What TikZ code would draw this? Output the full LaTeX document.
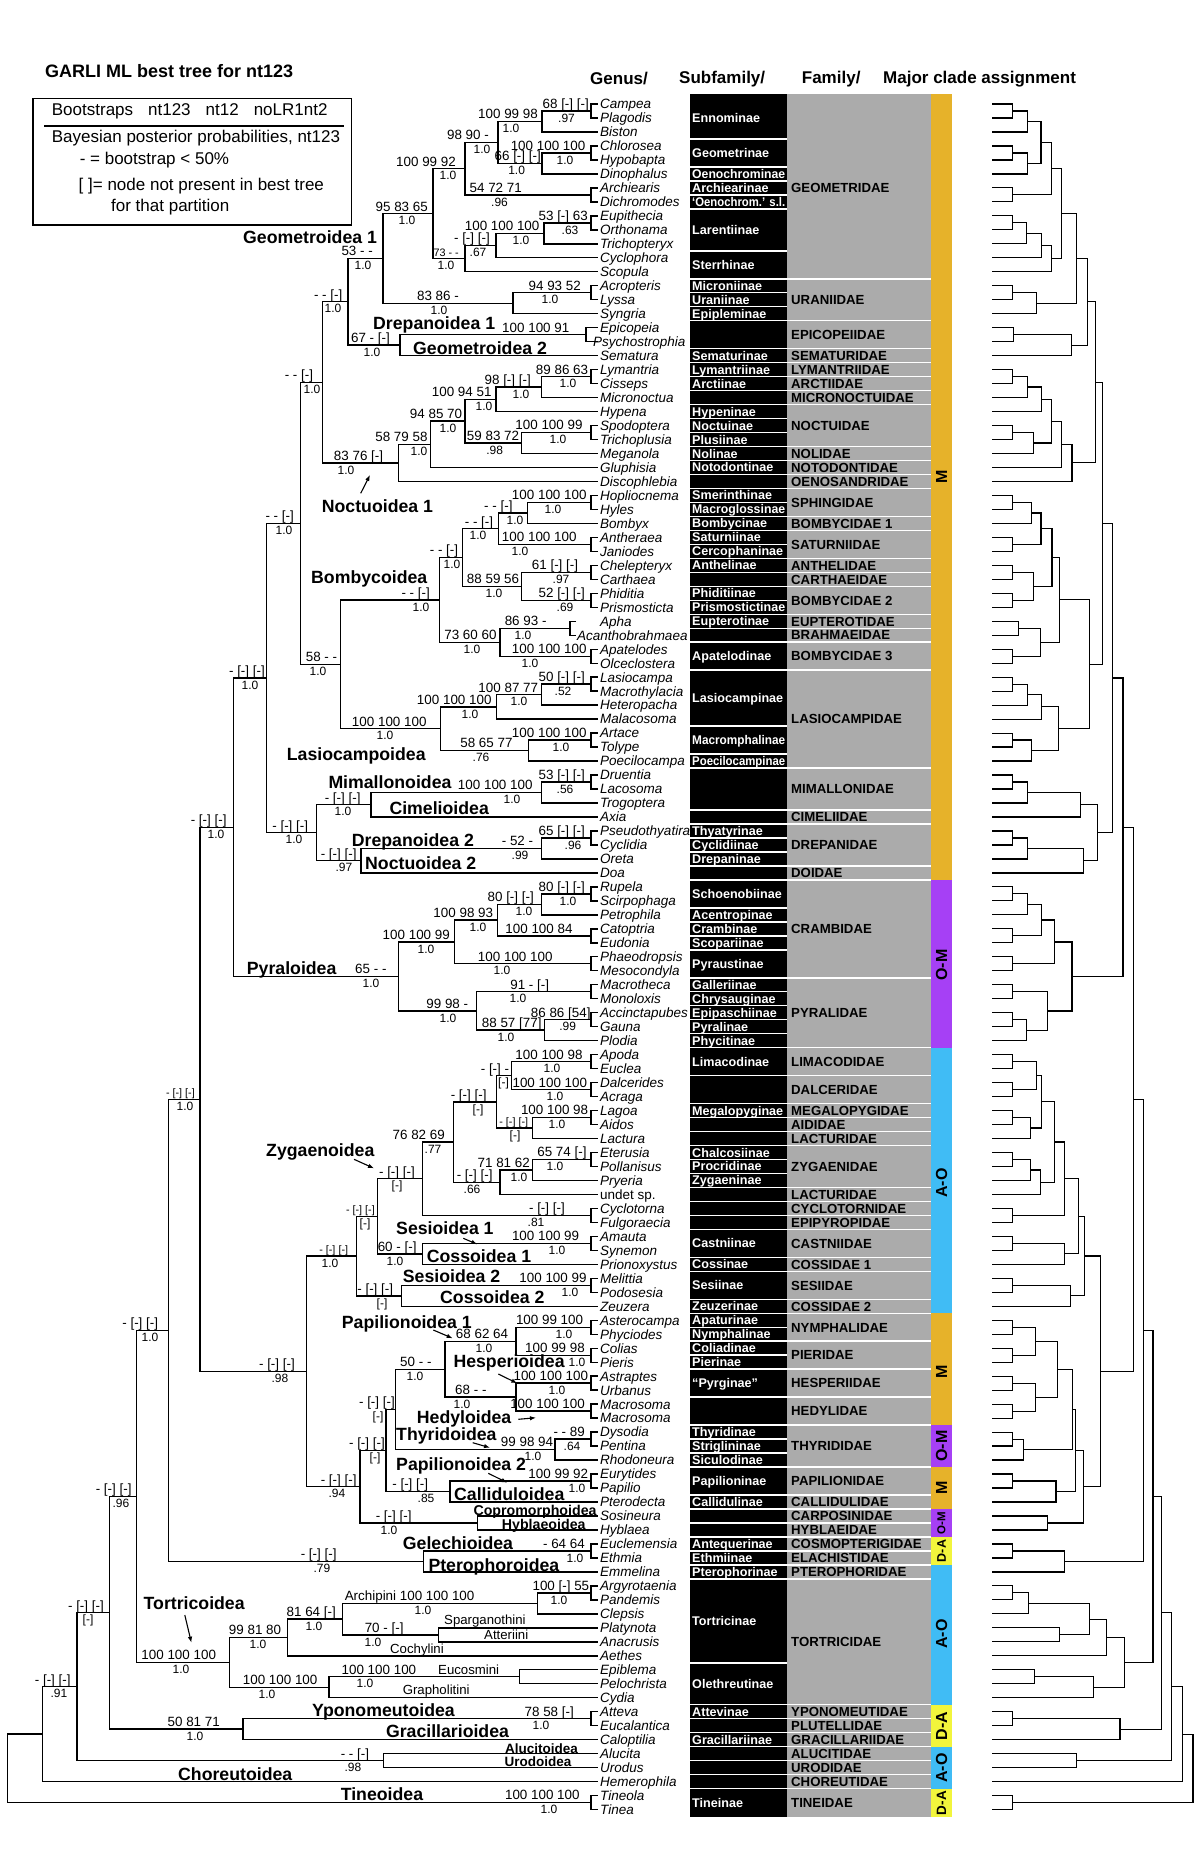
\documentclass[tikz,border=0pt]{standalone}
\usepackage{fontspec}
\usepackage{graphicx}
\setmainfont{Liberation Sans}
\usetikzlibrary{calc,arrows.meta}
\definecolor{barO}{RGB}{230,178,42}
\definecolor{barP}{RGB}{166,64,245}
\definecolor{barB}{RGB}{64,188,245}
\definecolor{barY}{RGB}{242,245,60}
\definecolor{famgray}{RGB}{171,171,171}
\newif\ifrighttree
\newcommand{\tpre}{L}
\newsavebox{\fitbox}
\newcommand{\fitw}[2]{\sbox{\fitbox}{#2}\ifdim\wd\fitbox>#1\relax\resizebox{#1}{\ht\fitbox}{\usebox{\fitbox}}\else\usebox{\fitbox}\fi}
\newcommand{\tn}[4]{%
  \ifrighttree\pgfmathsetmacro{\tnX}{1193-(#2-7.7)*0.31}\else\pgfmathsetmacro{\tnX}{#2}\fi
  \coordinate (\tpre#1m) at ($(\tpre#3)!.5!(\tpre#4)$);
  \coordinate (\tpre#1) at (\tpre#1m -| \tnX,0);
  \draw[br] (\tpre#3) -- (\tpre#3 -| \tnX,0) -- (\tpre#4 -| \tnX,0) -- (\tpre#4);%
}
\newcommand{\lf}[2]{\ifrighttree\coordinate (\tpre g#1) at (992,{104+(#1-1)*13.98});\else\coordinate (\tpre g#1) at (#2,{104+(#1-1)*13.98});\fi}
\newcommand{\TREE}{%
\foreach \i in {1,...,123}{\lf{\i}{597.5}}
\lf{38}{576}\lf{39}{576}
\foreach \a/\b/\x in {1/2/591,4/5/591,7/8/591,9/10/591,14/15/591,17/18/586,20/21/591,24/25/591,29/30/591,32/33/591,34/35/591,36/37/591,38/39/570,40/41/591,42/43/591,46/47/591,49/50/591,53/54/591,57/58/591,60/61/591,62/63/591,64/65/591,66/67/591,69/70/591,71/72/591,73/74/591,76/77/591,80/81/591,82/83/591,85/86/591,88/89/591,90/91/591,92/93/591,94/95/591,96/97/591,99/100/591,104/105/591,107/108/591,116/117/591,122/123/591}{\tn{k\a}{\x}{g\a}{g\b}}
\foreach \nm/\x/\c/\d in {B/542/k1/g3,D/542/k4/g6,C/498/B/D,E/465/C/k7,J/544/k9/g11,I/496/J/g12,H/465/I/g13,G/433/E/H,M/513/k14/g16,L/383/G/M,O/400/k17/g19,N/348/L/O,Yp/541.7/k20/g22,W/496/Yp/g23,X/521.7/k24/g26,V/465/W/X,U/430.7/V/g27,R/398.3/U/g28,P/322.7/N/R,GG/527.7/k29/g31,EE/498.3/GG/k32,II/521.7/k34/k36,CC/462.7/EE/II,DD/500/k38/k40,BB/439.3/CC/DD,OO/541.7/k42/g44,MM/496.7/OO/g45,NN/528.3/k46/g48,LL/440.7/MM/NN,Z/340.7/BB/LL,Q/300.7/P/Z,Mim/541.7/k49/g51,XX/371/Mim/g52,ZZ/541.7/k53/g55,YY/361/ZZ/g56,VV/316.7/XX/YY,T/266.7/Q/VV,ER/541.7/k57/g59,DR/497.7/ER/k60,CR/454.3/DR/k62,QR/544.3/k66/g68,PR/476.7/k64/QR,PY/398.3/CR/PR,WW/233.3/T/PY,KKa/511.7/k69/k71,LLa/532.7/k73/g75,IIa/496.7/KKa/LLa,MMa/532.7/k76/g78,JJa/500/MMa/g79,HHa/453.3/IIa/JJa,Zyg/422.7/HHa/k80,CSa/422.7/k82/g84,CCa/377.7/Zyg/CSa,DDa/401.7/k85/g87,BBa/356.7/CCa/DDa,Papa/516/k88/k90,HHc/516/k92/k94,HHb/445/Papa/HHc,Thy/555/k96/g98,GGa/395.7/HHb/Thy,Call/450/k99/g101,FFa/386/GGa/Call,Copro/477.7/g102/g103,EEa/360/FFa/Copro,AAa/306.7/BBa/EEa,UU/200/WW/AAa,GP/423.3/k104/g106,VVV/168.3/UU/GP,TE/537.7/k107/g109,TD/438.5/g110/g111,TC/342.3/TE/TD,TA/287.3/TC/g112,TF/519.2/g113/g114,TB/328.8/TF/g115,TO/229.6/TA/TB,WWW/136.7/VVV/TO,YG/243/k116/g118,XXX/109.6/WWW/YG,AU/383.5/g119/g120,YYY/77/XXX/AU,ZZZ/42.3/YYY/g121,ROOT/7.7/ZZZ/k122}{\tn{\nm}{\x}{\c}{\d}}
}
\newcommand{\bl}[5]{%
  \node[lt, anchor=base east, yshift=2.6pt] (t#1) at (#2,0 |- L#1) {#3};
  \node[lb, anchor=base, yshift=-11.2pt] (b#1) at (#4,0 |- L#1) {#5};}
\newcommand{\bls}[5]{%
  \node[lts, anchor=base east, yshift=2.6pt] (t#1) at (#2,0 |- L#1) {#3};
  \node[lb, anchor=base, yshift=-11.2pt] (b#1) at (#4,0 |- L#1) {#5};}
\begin{document}
\begin{tikzpicture}[x=1pt,y=-1pt,
  br/.style={line width=1.4pt, line join=miter},
  lt/.style={inner sep=0pt, font=\fontsize{13.4}{14}\selectfont},
  lts/.style={inner sep=0pt, font=\fontsize{10.8}{12}\selectfont},
  lb/.style={inner sep=0pt, font=\fontsize{12}{13}\selectfont},
  gen/.style={anchor=west, inner sep=0pt, font=\fontsize{13.5}{14}\selectfont\itshape, text height=9.7pt, text depth=0pt},
  sub/.style={anchor=west, inner sep=0pt, text=white, font=\fontsize{12.6}{13}\selectfont\bfseries, text height=9pt, text depth=0pt},
  fam/.style={anchor=west, inner sep=0pt, text=black, font=\fontsize{13.2}{14}\selectfont\bfseries, text height=9.5pt, text depth=0pt},
  clade/.style={anchor=west, inner sep=0pt, font=\fontsize{17.7}{18}\selectfont\bfseries, text height=12.7pt, text depth=0pt},
  cladesm/.style={anchor=west, inner sep=0pt, font=\fontsize{14.2}{15}\selectfont\bfseries, text height=10.2pt, text depth=0pt},
  tribe/.style={anchor=base west, inner sep=0pt, font=\fontsize{13.2}{14}\selectfont},
  hdr/.style={anchor=west, inner sep=0pt, font=\fontsize{17}{18}\selectfont\bfseries},
  leg/.style={anchor=west, inner sep=0pt, font=\fontsize{17}{18}\selectfont},
  barlab/.style={rotate=90, inner sep=0pt, font=\fontsize{16}{17}\selectfont\bfseries},
  sepl/.style={white, line width=1.5pt},
  arr/.style={line width=1.1pt, -{Latex[length=6pt,width=4.5pt]}}]
\useasboundingbox (0,0) rectangle (1200,1855);
\fill[white] (0,0) rectangle (1200,1855);

% title and legend
\node[anchor=west, inner sep=0pt, font=\fontsize{18}{19}\selectfont\bfseries] (title) at (45,71) {GARLI ML best tree for nt123};
\draw[line width=1.1pt] (33,98.3) rectangle (351.5,225);
\draw[line width=1.1pt] (44,126) -- (344.4,126);
\node[leg] (lg1) at (51.7,111) {Bootstraps\hspace{15pt}nt123\hspace{15pt}nt12\hspace{15pt}noLR1nt2};
\node[leg] (lg2) at (51.7,137.7) {Bayesian posterior probabilities, nt123};
\node[leg] (lg3) at (79.6,160) {- = bootstrap < 50\%};
\node[leg] (lg4) at (78.5,185.7) {[ ]= node not present in best tree};
\node[leg] (lg5) at (111,206.7) {for that partition};

% headers
\node[hdr] (h1) at (590,79) {Genus/};
\node[hdr] (h2) at (679,79) {Subfamily/};
\node[hdr] (h3) at (801.7,79) {Family/};
\node[hdr] (h4) at (883,79) {Major clade assignment};

% columns
\fill[black] (690,94) rectangle (787,1816.55);
\fill[famgray] (787,94) rectangle (931,1816.55);
\foreach \i in {3,5,6,7,8,11,13,14,15,16,18,19,20,21,22,23,24,25,26,27,28,29,30,31,32,33,34,35,36,37,38,39,41,45,47,48,51,52,53,54,55,56,58,59,60,61,63,64,65,66,67,68,70,72,73,74,75,76,77,78,79,80,81,83,84,86,87,88,89,90,91,93,95,96,97,98,100,101,102,103,104,105,106,112,115,116,117,118,119,120,121}
  \draw[sepl] (690,{97.01+13.98*\i}) -- (787,{97.01+13.98*\i});
\foreach \i in {13,16,18,19,20,21,22,25,26,27,28,30,31,33,34,35,37,38,39,41,48,51,52,55,56,63,68,70,72,73,74,75,78,79,80,81,83,84,86,87,89,91,93,95,98,100,101,102,103,104,105,106,115,116,117,118,119,120,121}
  \draw[sepl] (787,{97.01+13.98*\i}) -- (931,{97.01+13.98*\i});
\foreach \a/\b/\t in {1/3/Ennominae,4/5/Geometrinae,6/6/Oenochrominae,7/7/Archiearinae,8/8/{‘Oenochrom.’ s.l.},9/11/Larentiinae,12/13/Sterrhinae,14/14/Microniinae,15/15/Uraniinae,16/16/Epipleminae,19/19/Sematurinae,20/20/Lymantriinae,21/21/Arctiinae,23/23/Hypeninae,24/24/Noctuinae,25/25/Plusiinae,26/26/Nolinae,27/27/Notodontinae,29/29/Smerinthinae,30/30/Macroglossinae,31/31/Bombycinae,32/32/Saturniinae,33/33/Cercophaninae,34/34/Anthelinae,36/36/Phiditiinae,37/37/Prismostictinae,38/38/Eupterotinae,40/41/Apatelodinae,42/45/Lasiocampinae,46/47/Macromphalinae,48/48/Poecilocampinae,53/53/Thyatyrinae,54/54/Cyclidiinae,55/55/Drepaninae,57/58/Schoenobiinae,59/59/Acentropinae,60/60/Crambinae,61/61/Scopariinae,62/63/Pyraustinae,64/64/Galleriinae,65/65/Chrysauginae,66/66/Epipaschiinae,67/67/Pyralinae,68/68/Phycitinae,69/70/Limacodinae,73/73/Megalopyginae,76/76/Chalcosiinae,77/77/Procridinae,78/78/Zygaeninae,82/83/Castniinae,84/84/Cossinae,85/86/Sesiinae,87/87/Zeuzerinae,88/88/Apaturinae,89/89/Nymphalinae,90/90/Coliadinae,91/91/Pierinae,92/93/“Pyrginae”,96/96/Thyridinae,97/97/Striglininae,98/98/Siculodinae,99/100/Papilioninae,101/101/Callidulinae,104/104/Antequerinae,105/105/Ethmiinae,106/106/Pterophorinae,107/112/Tortricinae,113/115/Olethreutinae,116/116/Attevinae,118/118/Gracillariinae,122/123/Tineinae}
  \node[sub] (sf\a) at (692,{104+((\a+\b)/2-1)*13.98}) {\fitw{93pt}{\t}};
\foreach \a/\b/\t in {1/13/GEOMETRIDAE,14/16/URANIIDAE,17/18/EPICOPEIIDAE,19/19/SEMATURIDAE,20/20/LYMANTRIIDAE,21/21/ARCTIIDAE,22/22/MICRONOCTUIDAE,23/25/NOCTUIDAE,26/26/NOLIDAE,27/27/NOTODONTIDAE,28/28/OENOSANDRIDAE,29/30/SPHINGIDAE,31/31/BOMBYCIDAE 1,32/33/SATURNIIDAE,34/34/ANTHELIDAE,35/35/CARTHAEIDAE,36/37/BOMBYCIDAE 2,38/38/EUPTEROTIDAE,39/39/BRAHMAEIDAE,40/41/BOMBYCIDAE 3,42/48/LASIOCAMPIDAE,49/51/MIMALLONIDAE,52/52/CIMELIIDAE,53/55/DREPANIDAE,56/56/DOIDAE,57/63/CRAMBIDAE,64/68/PYRALIDAE,69/70/LIMACODIDAE,71/72/DALCERIDAE,73/73/MEGALOPYGIDAE,74/74/AIDIDAE,75/75/LACTURIDAE,76/78/ZYGAENIDAE,79/79/LACTURIDAE,80/80/CYCLOTORNIDAE,81/81/EPIPYROPIDAE,82/83/CASTNIIDAE,84/84/COSSIDAE 1,85/86/SESIIDAE,87/87/COSSIDAE 2,88/89/NYMPHALIDAE,90/91/PIERIDAE,92/93/HESPERIIDAE,94/95/HEDYLIDAE,96/98/THYRIDIDAE,99/100/PAPILIONIDAE,101/101/CALLIDULIDAE,102/102/CARPOSINIDAE,103/103/HYBLAEIDAE,104/104/COSMOPTERIGIDAE,105/105/ELACHISTIDAE,106/106/PTEROPHORIDAE,107/115/TORTRICIDAE,116/116/YPONOMEUTIDAE,117/117/PLUTELLIDAE,118/118/GRACILLARIIDAE,119/119/ALUCITIDAE,120/120/URODIDAE,121/121/CHOREUTIDAE,122/123/TINEIDAE}
  \node[fam] (fm\a) at (791,{104+((\a+\b)/2-1)*13.98}) {\fitw{137pt}{\t}};

% major clade bar
\fill[barO] (931,94) rectangle (952,879.9);
\fill[barP] (931,879.9) rectangle (952,1047.65);
\fill[barB] (931,1047.65) rectangle (952,1313.27);
\fill[barO] (931,1313.27) rectangle (952,1425.11);
\fill[barP] (931,1425.11) rectangle (952,1467.05);
\fill[barO] (931,1467.05) rectangle (952,1508.99);
\fill[barP] (931,1508.99) rectangle (952,1536.95);
\fill[barY] (931,1536.95) rectangle (952,1564.91);
\fill[barB] (931,1564.91) rectangle (952,1704.71);
\fill[barY] (931,1704.71) rectangle (952,1746.65);
\fill[barB] (931,1746.65) rectangle (952,1788.59);
\fill[barY] (931,1788.59) rectangle (952,1816.55);
\node[barlab] (cb1) at (941.5,477) {M};
\node[barlab] (cb2) at (941.5,965) {O-M};
\node[barlab] (cb3) at (941.5,1183) {A-O};
\node[barlab] (cb4) at (941.5,1372) {M};
\node[barlab] (cb5) at (941.5,1446) {O-M};
\node[barlab] (cb6) at (941.5,1488) {M};
\node[barlab, font=\fontsize{11.5}{12}\selectfont\bfseries] (cb7) at (941.5,1523) {O-M};
\node[barlab, font=\fontsize{12.5}{13}\selectfont\bfseries] (cb8) at (941.5,1551) {D-A};
\node[barlab] (cb9) at (941.5,1634) {A-O};
\node[barlab] (cb10) at (941.5,1726) {D-A};
\node[barlab] (cb11) at (941.5,1768) {A-O};
\node[barlab, font=\fontsize{13.5}{14}\selectfont\bfseries] (cb12) at (941.5,1803) {D-A};

% genus names
\foreach \i/\t in {1/Campea,2/Plagodis,3/Biston,4/Chlorosea,5/Hypobapta,6/Dinophalus,7/Archiearis,8/Dichromodes,9/Eupithecia,10/Orthonama,11/Trichopteryx,12/Cyclophora,13/Scopula,14/Acropteris,15/Lyssa,16/Syngria,17/Epicopeia,19/Sematura,20/Lymantria,21/Cisseps,22/Micronoctua,23/Hypena,24/Spodoptera,25/Trichoplusia,26/Meganola,27/Gluphisia,28/Discophlebia,29/Hopliocnema,30/Hyles,31/Bombyx,32/Antheraea,33/Janiodes,34/Chelepteryx,35/Carthaea,36/Phiditia,37/Prismosticta,38/Apha,40/Apatelodes,41/Olceclostera,42/Lasiocampa,43/Macrothylacia,44/Heteropacha,45/Malacosoma,46/Artace,47/Tolype,48/Poecilocampa,49/Druentia,50/Lacosoma,51/Trogoptera,52/Axia,53/Pseudothyatira,54/Cyclidia,55/Oreta,56/Doa,57/Rupela,58/Scirpophaga,59/Petrophila,60/Catoptria,61/Eudonia,62/Phaeodropsis,63/Mesocondyla,64/Macrotheca,65/Monoloxis,66/Accinctapubes,67/Gauna,68/Plodia,69/Apoda,70/Euclea,71/Dalcerides,72/Acraga,73/Lagoa,74/Aidos,75/Lactura,76/Eterusia,77/Pollanisus,78/Pryeria,80/Cyclotorna,81/Fulgoraecia,82/Amauta,83/Synemon,84/Prionoxystus,85/Melittia,86/Podosesia,87/Zeuzera,88/Asterocampa,89/Phyciodes,90/Colias,91/Pieris,92/Astraptes,93/Urbanus,94/Macrosoma,95/Macrosoma,96/Dysodia,97/Pentina,98/Rhodoneura,99/Eurytides,100/Papilio,101/Pterodecta,102/Sosineura,103/Hyblaea,104/Euclemensia,105/Ethmia,106/Emmelina,107/Argyrotaenia,108/Pandemis,109/Clepsis,110/Platynota,111/Anacrusis,112/Aethes,113/Epiblema,114/Pelochrista,115/Cydia,116/Atteva,117/Eucalantica,118/Caloptilia,119/Alucita,120/Urodus,121/Hemerophila,122/Tineola,123/Tinea}
  \node[gen] (n\i) at (600,{104+(\i-1)*13.98}) {\t};
\node[gen] (n18) at (593,{104+17*13.98}) {Psychostrophia};
\node[gen] (n39) at (577,{104+38*13.98}) {Acanthobrahmaea};
\node[gen, font=\fontsize{13.5}{14}\selectfont] (n79) at (600,{104+78*13.98}) {undet sp.};

% left tree
\TREE

% branch support labels
\bl{k1}{589}{68 [-] [-]}{566.5}{.97}
\bl{B}{538}{100 99 98}{511}{1.0}
\bl{k4}{585.5}{100 100 100}{565}{1.0}
\bl{D}{541}{66 [-] [-]}{516.6}{1.0}
\bl{C}{489}{98 90 -}{482}{1.0}
\bl{k7}{522}{54 72 71}{499.5}{.96}
\bl{E}{456}{100 99 92}{448}{1.0}
\bl{k9}{588}{53 [-] 63}{570}{.63}
\bl{J}{539.6}{100 100 100}{521}{1.0}
\bl{I}{490}{- [-] [-]}{478}{.67}
\bls{H}{459}{73 - -}{446}{1.0}
\bl{G}{428}{95 83 65}{407}{1.0}
\bl{k14}{581}{94 93 52}{550}{1.0}
\bl{M}{459}{83 86 -}{439}{1.0}
\bl{L}{373}{53 - -}{363}{1.0}
\bl{k17}{569.5}{100 100 91}{540}{}
\bl{O}{390}{67 - [-]}{372}{1.0}
\bl{N}{342.5}{- - [-]}{333}{1.0}
\bl{P}{313.3}{- - [-]}{312}{1.0}
\bl{k20}{588.3}{89 86 63}{568}{1.0}
\bl{Yp}{531}{98 [-] [-]}{521}{1.0}
\bl{W}{491.7}{100 94 51}{484}{1.0}
\bl{V}{462.3}{94 85 70}{448}{1.0}
\bl{k24}{582.7}{100 100 99}{558}{1.0}
\bl{X}{519.3}{59 83 72}{494.7}{.98}
\bl{U}{427.7}{58 79 58}{419}{1.0}
\bl{R}{383.3}{83 76 [-]}{346}{1.0}
\bl{k29}{586.7}{100 100 100}{553}{1.0}
\bl{GG}{512.7}{- - [-]}{515}{1.0}
\bl{k32}{576.7}{100 100 100}{520}{1.0}
\bl{EE}{493.3}{- - [-]}{478}{1.0}
\bl{CC}{458.3}{- - [-]}{452}{1.0}
\bl{k34}{578.3}{61 [-] [-]}{561}{.97}
\bl{k36}{585}{52 [-] [-]}{565}{.69}
\bl{II}{519.3}{88 59 56}{494}{1.0}
\bl{BB}{430}{- - [-]}{421}{1.0}
\bl{k38}{546.7}{86 93 -}{523}{1.0}
\bl{k40}{586.7}{100 100 100}{530}{1.0}
\bl{DD}{496.7}{73 60 60}{472}{1.0}
\bl{Z}{337.3}{58 - -}{318}{1.0}
\bl{Q}{294}{- - [-]}{284}{1.0}
\bl{T}{265}{- [-] [-]}{250}{1.0}
\bl{k42}{585}{50 [-] [-]}{563}{.52}
\bl{OO}{538.3}{100 87 77}{519}{1.0}
\bl{MM}{491.7}{100 100 100}{470}{1.0}
\bl{LL}{426.7}{100 100 100}{385}{1.0}
\bl{k46}{586.7}{100 100 100}{561}{1.0}
\bl{NN}{512.7}{58 65 77}{481}{.76}
\bl{k49}{585}{53 [-] [-]}{565}{.56}
\bl{Mim}{532.7}{100 100 100}{512}{1.0}
\bl{XX}{360.7}{- [-] [-]}{343}{1.0}
\bl{k53}{585}{65 [-] [-]}{573}{.96}
\bl{ZZ}{533.3}{- 52 -}{520}{.99}
\bl{YY}{356.7}{- [-] [-]}{344}{.97}
\bl{VV}{308.3}{- [-] [-]}{294}{1.0}
\bl{WW}{226.7}{- [-] [-]}{216}{1.0}
\bl{k57}{585}{80 [-] [-]}{568}{1.0}
\bl{ER}{534}{80 [-] [-]}{524}{1.0}
\bl{k60}{572.7}{100 100 84}{540}{}
\bl{DR}{493.3}{100 98 93}{478}{1.0}
\bl{k62}{552.7}{100 100 100}{502}{1.0}
\bl{CR}{450}{100 100 99}{426}{1.0}
\bl{PY}{386.7}{65 - -}{371}{1.0}
\bl{k64}{549.3}{91 - [-]}{518}{1.0}
\bl{PR}{468.3}{99 98 -}{448}{1.0}
\bl{k66}{590.7}{86 86 [54]}{567.7}{.99}
\bl{QR}{541.7}{88 57 [77]}{506}{1.0}
\bl{k69}{582.7}{100 100 98}{552}{1.0}
\bl{k71}{587.3}{100 100 100}{555}{1.0}
\bl{KKa}{509.3}{- [-] -}{503.5}{[-]}
\bl{k73}{588.3}{100 100 98}{557}{1.0}
\bls{LLa}{528.3}{- [-] [-]}{515}{[-]}
\bl{IIa}{486.7}{- [-] [-]}{478}{[-]}
\bl{k76}{586.7}{65 74 [-]}{555}{1.0}
\bl{MMa}{530}{71 81 62}{519}{1.0}
\bl{JJa}{492.7}{- [-] [-]}{472}{.66}
\bl{HHa}{445}{76 82 69}{433}{.77}
\bl{k80}{565}{- [-] [-]}{536}{.81}
\bl{Zyg}{415}{- [-] [-]}{397}{[-]}
\bl{k82}{579.3}{100 100 99}{557}{1.0}
\bl{CSa}{416.7}{60 - [-]}{395}{1.0}
\bls{CCa}{375}{- [-] [-]}{365}{[-]}
\bl{k85}{586.7}{100 100 99}{570}{1.0}
\bl{DDa}{393.3}{- [-] [-]}{382}{[-]}
\bls{BBa}{348.3}{- [-] [-]}{330}{1.0}
\bls{UU}{195}{- [-] [-]}{185}{1.0}
\bl{k88}{583.3}{100 99 100}{564}{1.0}
\bl{k90}{585}{100 99 98}{577}{1.0}
\bl{Papa}{508.3}{68 62 64}{484}{1.0}
\bl{k92}{588.3}{100 100 100}{557}{1.0}
\bl{k94}{585}{100 100 100}{557}{}
\bl{HHc}{486.7}{68 - -}{462}{1.0}
\bl{HHb}{431.7}{50 - -}{415}{1.0}
\bl{k96}{585}{- - 89}{572}{.64}
\bl{Thy}{553.3}{99 98 94}{533}{1.0}
\bl{GGa}{395}{- [-] [-]}{378}{[-]}
\bl{FFa}{385}{- [-] [-]}{375}{[-]}
\bl{k99}{588.3}{100 99 92}{577}{1.0}
\bl{Call}{428.3}{- [-] [-]}{426}{.85}
\bl{Copro}{411.7}{- [-] [-]}{389}{1.0}
\bl{EEa}{356.7}{- [-] [-]}{337}{.94}
\bl{AAa}{295}{- [-] [-]}{280}{.98}
\bl{VVV}{158.3}{- [-] [-]}{150}{1.0}
\bl{k104}{585}{- 64 64}{575}{1.0}
\bl{GP}{336.7}{- [-] [-]}{322}{.79}
\bl{WWW}{131.7}{- [-] [-]}{121}{.96}
\bl{k107}{589.4}{100 [-] 55}{559}{1.0}
\bl{TE}{474.6}{Archipini 100 100 100}{423}{1.0}
\bl{TD}{403.7}{70 - [-]}{373}{1.0}
\bl{TC}{336}{81 64 [-]}{314}{1.0}
\bl{TA}{281.3}{99 81 80}{258}{1.0}
\bl{TF}{416.4}{100 100 100}{365}{1.0}
\bl{TB}{317.6}{100 100 100}{267}{1.0}
\bl{TO}{216.2}{100 100 100}{181}{1.0}
\bl{k116}{574}{78 58 [-]}{541}{1.0}
\bl{YG}{220}{50 81 71}{195}{1.0}
\bl{XXX}{104}{- [-] [-]}{88}{[-]}
\bl{YYY}{70.8}{- [-] [-]}{59}{.91}
\bl{AU}{369.3}{- - [-]}{353}{.98}
\bl{k122}{579.8}{100 100 100}{549}{1.0}

% tribe labels
\node[tribe] (tr1) at (444,1624.5) {Sparganothini};
\node[tribe] (tr2) at (484,1639) {Atteriini};
\node[tribe] (tr3) at (390,1653) {Cochylini};
\node[tribe] (tr4) at (438,1674) {Eucosmini};
\node[tribe] (tr5) at (402.6,1694.5) {Grapholitini};

% clade names
\node[clade] (c1) at (243,237) {Geometroidea 1};
\node[clade] (c2) at (373,323.5) {Drepanoidea 1};
\node[clade] (c3) at (413,348) {Geometroidea 2};
\node[clade] (c4) at (321.7,505.7) {Noctuoidea 1};
\node[clade] (c5) at (311,576.7) {Bombycoidea};
\node[clade] (c6) at (286.7,754) {Lasiocampoidea};
\node[clade] (c7) at (328.3,781.7) {Mimallonoidea};
\node[clade] (c8) at (389.3,808.5) {Cimelioidea};
\node[clade] (c9) at (351.7,840) {Drepanoidea 2};
\node[clade] (c10) at (365,863) {Noctuoidea 2};
\node[clade] (c11) at (246.7,968.5) {Pyraloidea};
\node[clade] (c12) at (266,1150) {Zygaenoidea};
\node[clade] (c13) at (396,1228.3) {Sesioidea 1};
\node[clade] (c14) at (426.7,1256) {Cossoidea 1};
\node[clade] (c15) at (402.7,1276) {Sesioidea 2};
\node[clade] (c16) at (440,1297.5) {Cossoidea 2};
\node[clade] (c17) at (341.7,1321.7) {Papilionoidea 1};
\node[clade] (c18) at (453.3,1361) {Hesperioidea};
\node[clade] (c19) at (416.7,1417.3) {Hedyloidea};
\node[clade] (c20) at (396,1434.3) {Thyridoidea};
\node[clade] (c21) at (396,1464.3) {Papilionoidea 2};
\node[clade] (c22) at (454,1494.5) {Calliduloidea};
\node[cladesm] (c23) at (473.3,1510.5) {Copromorphoidea};
\node[cladesm] (c24) at (501.7,1524.5) {Hyblaeoidea};
\node[clade] (c25) at (402.7,1543.5) {Gelechioidea};
\node[clade] (c26) at (428.3,1565) {Pterophoroidea};
\node[clade] (c27) at (143.5,1603.3) {Tortricoidea};
\node[clade] (c28) at (312,1710) {Yponomeutoidea};
\node[clade] (c29) at (385.8,1731) {Gracillarioidea};
\node[cladesm, font=\fontsize{13.5}{14}\selectfont\bfseries] (c30) at (505,1748) {Alucitoidea};
\node[cladesm, font=\fontsize{13.5}{14}\selectfont\bfseries] (c31) at (504.4,1761.5) {Urodoidea};
\node[clade] (c32) at (178,1774.5) {Choreutoidea};
\node[clade] (c33) at (340.6,1794) {Tineoidea};

% arrows
\coordinate (a1s) at (360.7,493.3); \coordinate (a1e) at (370,475);
\coordinate (a2s) at (354,1159.3); \coordinate (a2e) at (374,1168.3);
\coordinate (a3s) at (463.3,1238.3); \coordinate (a3e) at (477.3,1244.3);
\coordinate (a4s) at (433.3,1330); \coordinate (a4e) at (452.7,1338.3);
\coordinate (a5s) at (498.3,1374); \coordinate (a5e) at (517.3,1383.3);
\coordinate (a6s) at (518.3,1419.3); \coordinate (a6e) at (536,1417.7);
\coordinate (a7s) at (472.7,1442.7); \coordinate (a7e) at (490,1447.7);
\coordinate (a8s) at (488.3,1473.3); \coordinate (a8e) at (507.3,1482.7);
\coordinate (a9s) at (184.8,1615); \coordinate (a9e) at (191.4,1642.7);
\foreach \k in {1,...,9} \draw[arr] (a\k s) -- (a\k e);

% right-hand tree (mirrored)
\righttreetrue
\renewcommand{\tpre}{R}
\tikzset{br/.style={line width=1.2pt, line join=miter}}
\TREE
\end{tikzpicture}
\end{document}
